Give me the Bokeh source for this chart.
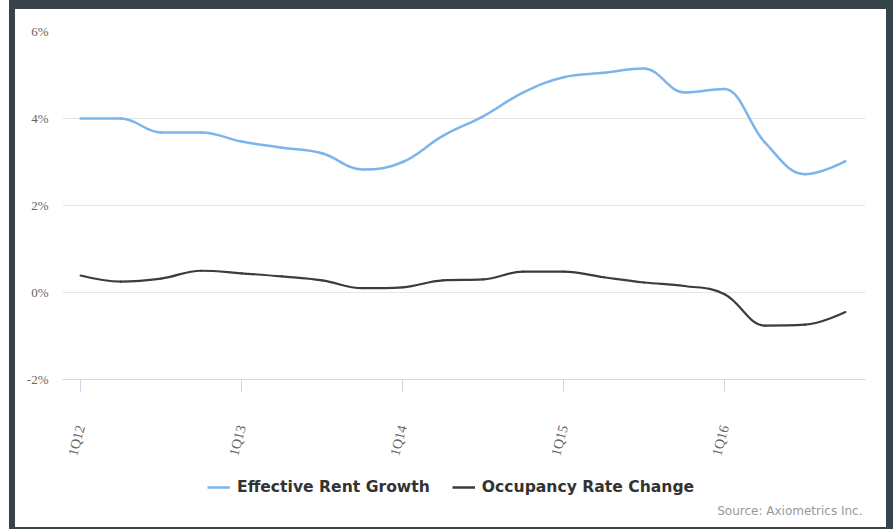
import math
from bokeh.plotting import figure
from bokeh.models import (Range1d, FixedTicker, PrintfTickFormatter, Legend, LegendItem, Label)
from bokeh.layouts import column
from bokeh.embed import file_html
from bokeh.resources import INLINE

quarters = ["1Q12", "2Q12", "3Q12", "4Q12", "1Q13", "2Q13", "3Q13", "4Q13",
            "1Q14", "2Q14", "3Q14", "4Q14", "1Q15", "2Q15", "3Q15", "4Q15",
            "1Q16", "2Q16", "3Q16", "4Q16"]
rent_growth = [4.0, 4.0, 3.68, 3.68, 3.47, 3.33, 3.2, 2.83, 3.0, 3.6,
               4.05, 4.6, 4.95, 5.05, 5.15, 4.6, 4.68, 3.45, 2.72, 3.02]
occupancy_change = [0.39, 0.25, 0.32, 0.5, 0.44, 0.37, 0.28, 0.1, 0.12, 0.28,
                    0.3, 0.48, 0.48, 0.35, 0.23, 0.15, -0.04, -0.76, -0.74, -0.45]
tick_labels = ["1Q12", "1Q13", "1Q14", "1Q15", "1Q16"]
y_ticks = [-2, 0, 2, 4, 6]
series_names = ["Effective Rent Growth", "Occupancy Rate Change"]
source_text = "Source: Axiometrics Inc."

BLUE = "#7cb5ec"
DARK = "#3c3c40"
FRAME = "#37434b"


def spline_segments(xs, ys, smoothing=1.5):
    """Highcharts-style spline: bezier control points derived from the data."""
    n = len(xs)
    denom = smoothing + 1
    lc = [(xs[i], ys[i]) for i in range(n)]
    rc = [(xs[i], ys[i]) for i in range(n)]
    for i in range(1, n - 1):
        px, py = xs[i - 1], ys[i - 1]
        x, y = xs[i], ys[i]
        nx, ny = xs[i + 1], ys[i + 1]
        lcx = (smoothing * x + px) / denom
        lcy = (smoothing * y + py) / denom
        rcx = (smoothing * x + nx) / denom
        rcy = (smoothing * y + ny) / denom
        if rcx != lcx:
            corr = ((rcy - lcy) * (rcx - x)) / (rcx - lcx) + y - rcy
            lcy += corr
            rcy += corr
        if lcy > py and lcy > y:
            lcy = max(py, y); rcy = 2 * y - lcy
        elif lcy < py and lcy < y:
            lcy = min(py, y); rcy = 2 * y - lcy
        if rcy > ny and rcy > y:
            rcy = max(ny, y); lcy = 2 * y - rcy
        elif rcy < ny and rcy < y:
            rcy = min(ny, y); lcy = 2 * y - rcy
        lc[i] = (lcx, lcy)
        rc[i] = (rcx, rcy)
    d = dict(x0=[], y0=[], x1=[], y1=[], cx0=[], cy0=[], cx1=[], cy1=[])
    for i in range(1, n):
        d["x0"].append(xs[i - 1]); d["y0"].append(ys[i - 1])
        d["x1"].append(xs[i]); d["y1"].append(ys[i])
        d["cx0"].append(rc[i - 1][0]); d["cy0"].append(rc[i - 1][1])
        d["cx1"].append(lc[i][0]); d["cy1"].append(lc[i][1])
    return d


xs = list(range(len(quarters)))
series_values = [rent_growth, occupancy_change]
colors = [BLUE, DARK]
widths = [2.5, 2.2]

# ---- main chart ----
p = figure(width=871, height=460,
           x_range=Range1d(-0.45, 19.5), y_range=Range1d(-2, 6),
           output_backend="svg", toolbar_location=None,
           min_border_left=47, min_border_right=21,
           min_border_top=22, min_border_bottom=90,
           background_fill_color="white", border_fill_color="white")
p.outline_line_color = None

p.xgrid.grid_line_color = None
p.ygrid.ticker = FixedTicker(ticks=y_ticks)
p.ygrid.grid_line_color = "#e6e6e6"
p.ygrid.grid_line_width = 1

p.yaxis.ticker = FixedTicker(ticks=y_ticks)
p.yaxis.formatter = PrintfTickFormatter(format="%d%%")
p.yaxis.axis_line_color = None
p.yaxis.major_tick_line_color = None
p.yaxis.minor_tick_line_color = None
p.yaxis.major_label_text_font = "Liberation Serif"
p.yaxis.major_label_text_font_size = "13px"
p.yaxis.major_label_text_color = "#666666"
p.yaxis.major_label_standoff = 8

tick_pos = [quarters.index(t) for t in tick_labels]
p.xaxis.ticker = FixedTicker(ticks=tick_pos)
p.xaxis.major_label_overrides = {pos: lab for pos, lab in zip(tick_pos, tick_labels)}
p.xaxis.axis_line_color = "#ccd6eb"
p.xaxis.axis_line_width = 1
p.xaxis.major_tick_line_color = "#ccd6eb"
p.xaxis.major_tick_out = 13
p.xaxis.major_tick_in = 0
p.xaxis.minor_tick_line_color = None
p.xaxis.major_label_orientation = math.radians(75)
p.xaxis.major_label_text_font = "Liberation Serif"
p.xaxis.major_label_text_font_size = "14px"
p.xaxis.major_label_text_color = "#666666"
p.xaxis.major_label_standoff = 33

for vals, col, w in zip(series_values, colors, widths):
    seg = spline_segments(xs, vals)
    p.bezier(x0="x0", y0="y0", x1="x1", y1="y1", cx0="cx0", cy0="cy0", cx1="cx1", cy1="cy1",
             source=seg, line_color=col, line_width=w, line_cap="round")

# ---- legend / source strip (its frame is aligned with the chart's frame) ----
q = figure(width=871, height=58, x_range=Range1d(100, 101), y_range=Range1d(100, 101),
           output_backend="svg", toolbar_location=None, min_border=0,
           x_axis_type=None, y_axis_type=None,
           background_fill_color="white", border_fill_color="white")
q.outline_line_color = None

legend_items = []
for name, vals, col in zip(series_names, series_values, colors):
    # same series, drawn outside this strip's visible range: used only as legend key
    proxy = q.line(x=xs, y=vals, line_color=col, line_width=2.5)
    legend_items.append(LegendItem(label=name, renderers=[proxy]))

legend = Legend(items=legend_items, orientation="horizontal", location=(145, 30),
                label_text_font="DejaVu Sans", label_text_font_style="bold",
                label_text_font_size="15.6px", label_text_color="#333333",
                glyph_width=23, glyph_height=20, label_standoff=7, spacing=22,
                padding=0, margin=0, border_line_color=None,
                background_fill_alpha=0)
q.add_layout(legend, "center")

src = Label(x=800, y=17, x_units="screen", y_units="screen", text=source_text,
            text_align="right", text_baseline="middle", text_font="DejaVu Sans",
            text_font_size="12px", text_color="#999999")
q.add_layout(src)

inner = column(p, q, spacing=0, styles={"background-color": "white"}, margin=(9, 7, 2, 6))
outer = column(inner, styles={"background-color": FRAME}, margin=(0, 0, 0, 9))

open("out.html", "w").write(file_html(outer, INLINE))
